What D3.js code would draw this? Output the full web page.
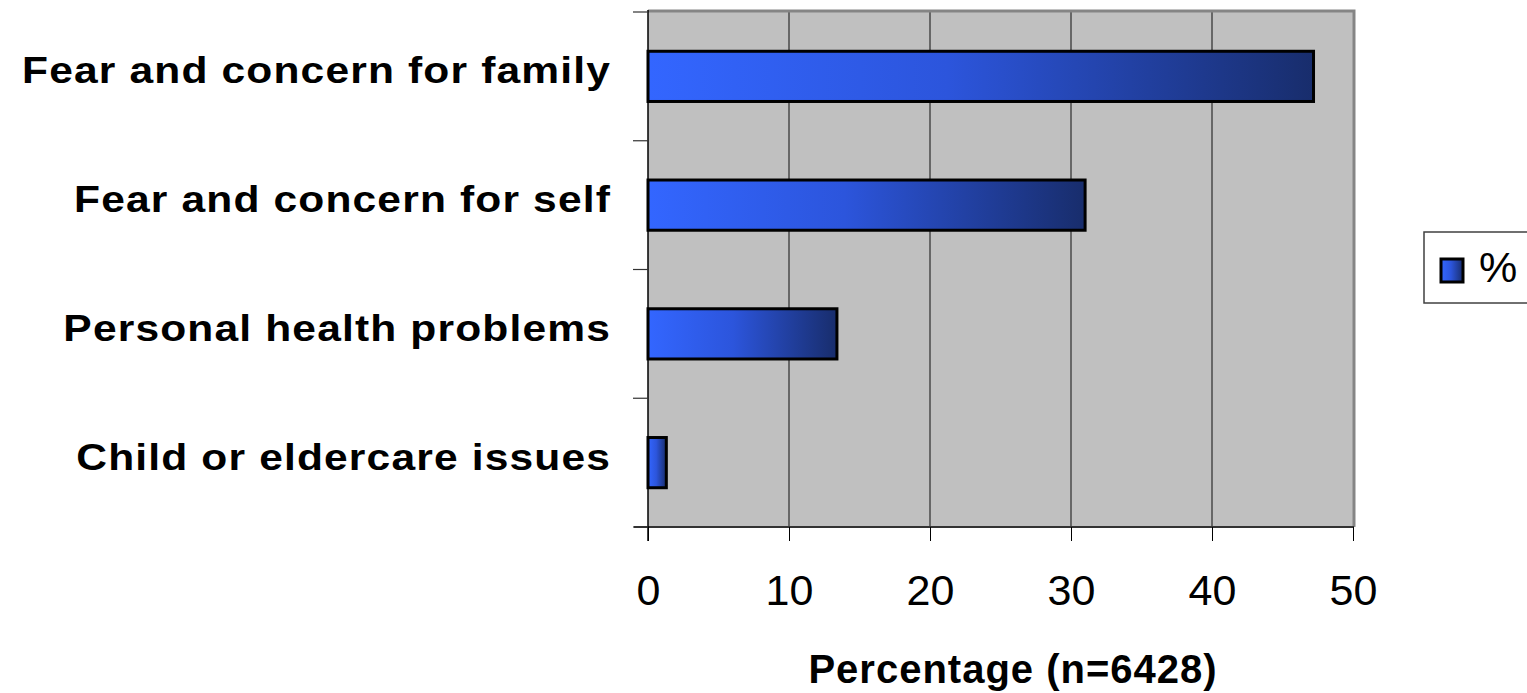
<!DOCTYPE html>
<html>
<head>
<meta charset="utf-8">
<script src="https://cdn.jsdelivr.net/npm/d3@7"></script>
<style>
  html, body { margin: 0; padding: 0; background: #ffffff; }
  svg { display: block; font-family: "Liberation Sans", Arial, Helvetica, sans-serif; }
</style>
</head>
<body>
<svg id="chart" width="1527" height="693"></svg>
<script>
// Reasons given, top to bottom, with their share of respondents (%)
const categories = [
  "Fear and concern for family",
  "Fear and concern for self",
  "Personal health problems",
  "Child or eldercare issues"
];
const values = [47.2, 31.0, 13.4, 1.3];
const xTicks = [0, 10, 20, 30, 40, 50];
const seriesName = "%";
const axisTitle = "Percentage (n=6428)";

const svg = d3.select("#chart");
const plot = { left: 648, right: 1353, top: 12, bottom: 527 };

const x = d3.scaleLinear().domain([0, 50]).range([plot.left, plot.right]);
const y = d3.scaleBand()
  .domain(categories)
  .range([plot.top, plot.bottom])
  .paddingInner(0.61)
  .paddingOuter(0.305);

// Bar gradient: bright blue on the left fading to navy on the right
const defs = svg.append("defs");
const grad = defs.append("linearGradient")
  .attr("id", "barGrad")
  .attr("x1", "0%").attr("x2", "100%").attr("y1", "0%").attr("y2", "0%");
grad.append("stop").attr("offset", "0%").attr("stop-color", "#3366ff");
grad.append("stop").attr("offset", "45%").attr("stop-color", "#2c55dc");
grad.append("stop").attr("offset", "100%").attr("stop-color", "#182d6c");

// Plot background
svg.append("rect")
  .attr("x", plot.left).attr("y", plot.top)
  .attr("width", plot.right - plot.left).attr("height", plot.bottom - plot.top)
  .attr("fill", "#c0c0c0");

// Vertical gridlines
svg.append("g")
  .selectAll("line")
  .data(xTicks.filter(t => t > 0 && t < 50))
  .join("line")
  .attr("x1", d => x(d)).attr("x2", d => x(d))
  .attr("y1", plot.top).attr("y2", plot.bottom)
  .attr("stroke", "#4a4a4a").attr("stroke-width", 1.5);

// Frame: grey top and right edges
svg.append("path")
  .attr("d", `M${plot.left},${plot.top - 1}H${plot.right + 1}V${plot.bottom}`)
  .attr("fill", "none").attr("stroke", "#858585").attr("stroke-width", 3);

// Bars
svg.append("g")
  .selectAll("rect")
  .data(categories.map((c, i) => ({ c, v: values[i] })))
  .join("rect")
  .attr("x", x(0))
  .attr("y", d => y(d.c))
  .attr("width", d => x(d.v) - x(0))
  .attr("height", y.bandwidth())
  .attr("fill", "url(#barGrad)")
  .attr("stroke", "#000").attr("stroke-width", 3);

// X axis
const xAxis = svg.append("g")
  .attr("transform", `translate(0,${plot.bottom})`)
  .call(d3.axisBottom(x).tickValues(xTicks).tickSize(14).tickPadding(33).tickFormat(d3.format("d")));
xAxis.select(".domain").attr("stroke", "#333").attr("stroke-width", 2)
  .attr("d", `M${plot.left - 14},0H${plot.right + 1}`);
xAxis.selectAll(".tick line").attr("stroke", "#000").attr("stroke-width", 1);
xAxis.selectAll(".tick text")
  .attr("font-size", 43).attr("fill", "#000")
  .attr("font-family", "\"Liberation Sans\", Arial, sans-serif");

// Y axis: tick marks on band boundaries, labels to the left
const boundaries = [plot.top].concat(categories.map(c => y(c) - y.step() * y.paddingInner() / 2 + y.step()));
const yAxis = svg.append("g");
yAxis.append("line")
  .attr("x1", plot.left).attr("x2", plot.left)
  .attr("y1", plot.top - 2).attr("y2", plot.bottom + 14)
  .attr("stroke", "#000").attr("stroke-width", 1.5);
yAxis.selectAll("line.tick")
  .data(boundaries)
  .join("line")
  .attr("class", "tick")
  .attr("x1", plot.left - 15).attr("x2", plot.left)
  .attr("y1", d => d).attr("y2", d => d)
  .attr("stroke", "#333").attr("stroke-width", 1.2);

yAxis.selectAll("text")
  .data(categories)
  .join("text")
  .attr("transform", d => `translate(611,${y(d) + y.bandwidth() / 2 + 7}) scale(1.15,1)`)
  .attr("text-anchor", "end")
  .attr("font-size", 37)
  .attr("font-weight", "bold")
  .attr("letter-spacing", "1px")
  .attr("fill", "#000")
  .text(d => d);

// Axis title
svg.append("text")
  .attr("x", 1013).attr("y", 683)
  .attr("text-anchor", "middle")
  .attr("font-size", 40)
  .attr("font-weight", "bold")
  .attr("letter-spacing", "1px")
  .attr("fill", "#000")
  .text(axisTitle);

// Legend
const legend = svg.append("g").attr("transform", "translate(1424,232)");
legend.append("rect")
  .attr("width", 130).attr("height", 71)
  .attr("fill", "#fff").attr("stroke", "#404040").attr("stroke-width", 1.5);
legend.append("rect")
  .attr("x", 17).attr("y", 27).attr("width", 22).attr("height", 23)
  .attr("fill", "url(#barGrad)").attr("stroke", "#000").attr("stroke-width", 3);
legend.append("text")
  .attr("x", 55).attr("y", 50)
  .attr("font-size", 43).attr("fill", "#000")
  .text(seriesName);
</script>
</body>
</html>
